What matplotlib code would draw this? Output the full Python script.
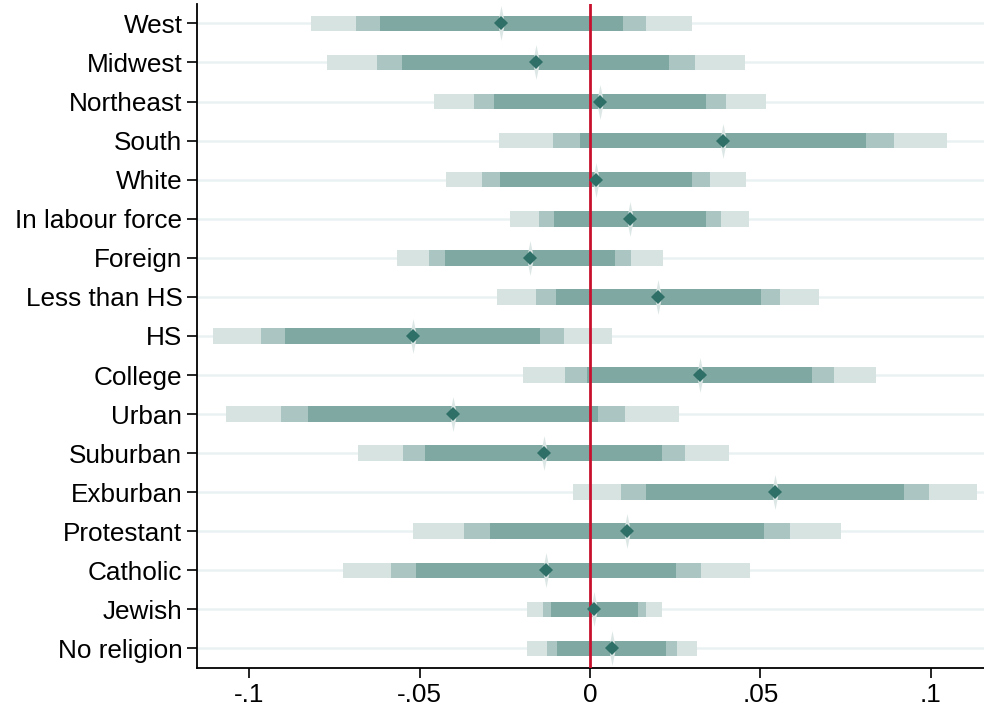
import matplotlib

matplotlib.use("Agg")
import matplotlib.pyplot as plt
import numpy as np

# coefplot colours (Stata-like teal scheme)
LIGHT = "#d6e3e1"   # 99% CI
MID = "#abc6c2"     # 95% CI
DARK = "#80a8a2"    # 90% CI
MARK = "#2e6f68"
HALO = "#dce7e5"
GRID = "#eaf1f3"
ZERO = "#c8102e"

labels = [
    "West", "Midwest", "Northeast", "South", "White", "In labour force",
    "Foreign", "Less than HS", "HS", "College", "Urban", "Suburban",
    "Exburban", "Protestant", "Catholic", "Jewish", "No religion",
]
coef = [
    -0.0260, -0.0159, 0.0030, 0.0391, 0.0018, 0.0117,
    -0.0176, 0.0200, -0.0520, 0.0322, -0.0402, -0.0136,
    0.0543, 0.0108, -0.0128, 0.0013, 0.0064,
]
se = [
    0.0217, 0.0238, 0.0189, 0.0255, 0.0171, 0.0136,
    0.0151, 0.0183, 0.0227, 0.0201, 0.0258, 0.0211,
    0.0230, 0.0244, 0.0232, 0.0077, 0.0097,
]
# critical values for the 99 / 95 / 90 % intervals
zcrit = [2.576, 1.960, 1.645]
band_colors = [LIGHT, MID, DARK]

xticks = [-0.1, -0.05, 0, 0.05, 0.1]
xticklabels = ["-.1", "-.05", "0", ".05", ".1"]

plt.rcParams["font.family"] = ["Liberation Sans", "DejaVu Sans"]

coef = np.array(coef)
se = np.array(se)
y = np.arange(1, len(labels) + 1)

fig = plt.figure(figsize=(9.84, 7.08), dpi=100)
ax = fig.add_axes([0.2002, 0.0565, 0.7998, 0.938])

ax.set_yticks(y)
ax.set_yticklabels(labels)
ax.grid(axis="y", color=GRID, lw=1.8)
ax.set_axisbelow(True)

for z, c in zip(zcrit, band_colors):
    ax.barh(y, 2 * z * se, left=coef - z * se, height=0.4, color=c, zorder=2)

ax.axvline(0, color=ZERO, lw=2, zorder=3)

# light vertical halo behind each diamond
halo = [(0, 1), (0.2, 0), (0, -1), (-0.2, 0), (0, 1)]
ax.plot(coef, y, ls="none", marker=halo, ms=25, color=HALO, mew=0, zorder=4)
ax.plot(coef, y, ls="none", marker="D", ms=6.8, color=MARK, mew=0, zorder=5)

ax.set_xticks(xticks)
ax.set_xticklabels(xticklabels)
ax.set_xlim(-0.1153, 0.1156)
ax.set_ylim(17.5, 0.5)

ax.tick_params(length=7, width=1.2, labelsize=18.8, color="black")
ax.tick_params(axis="y", pad=3.5)
ax.tick_params(axis="x", pad=4)
for s in ("top", "right"):
    ax.spines[s].set_visible(False)
for s in ("left", "bottom"):
    ax.spines[s].set_linewidth(1.3)

fig.savefig("out.png", dpi=100)
